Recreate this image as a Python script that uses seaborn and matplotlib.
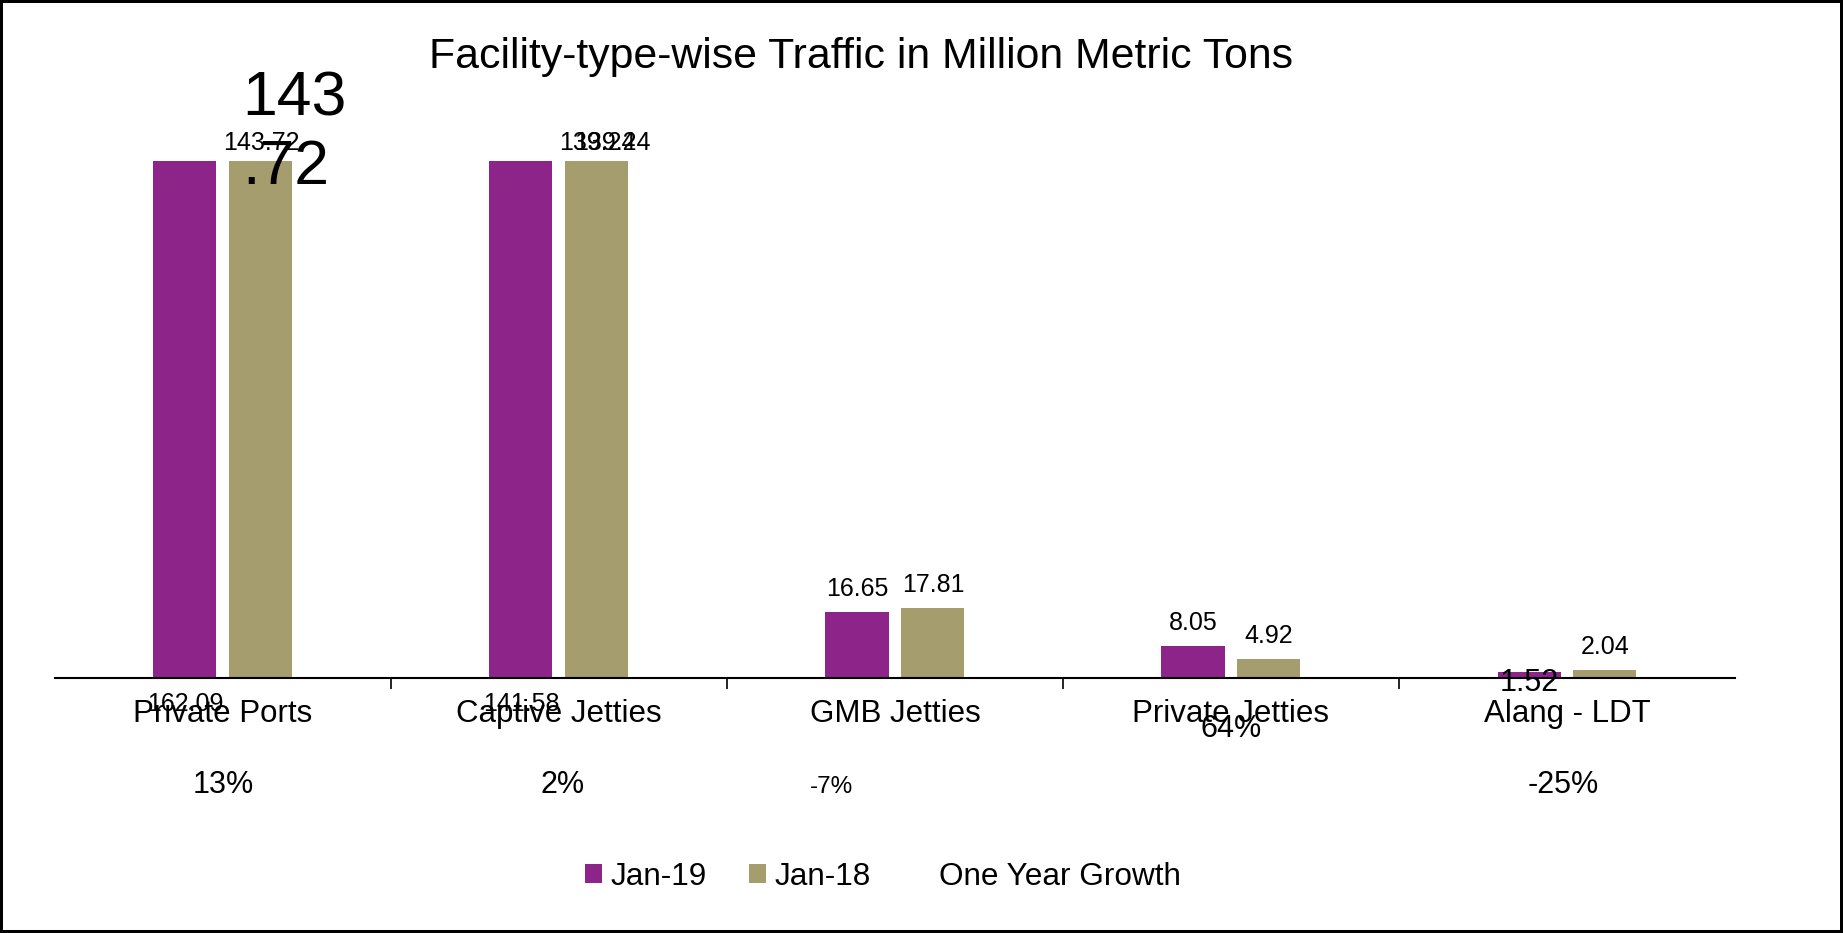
import matplotlib
matplotlib.use("Agg")
import matplotlib.pyplot as plt
import matplotlib.transforms as mtransforms
from matplotlib.patches import Patch
import pandas as pd
import seaborn as sns

# values
categories = ["Private Ports", "Captive Jetties", "GMB Jetties", "Private Jetties", "Alang - LDT"]
jan_19 = [162.09, 141.58, 16.65, 8.05, 1.52]
jan_18 = [143.72, 139.24, 17.81, 4.92, 2.04]
growth = ["13%", "2%", "-7%", "64%", "-25%"]
series_names = ["Jan-19", "Jan-18"]
series_colors = ["#8C2489", "#A69D6E"]
title = "Facility-type-wise Traffic in Million Metric Tons"

sns.set_style("white")
plt.rcParams["font.family"] = ["Liberation Sans", "DejaVu Sans"]
plt.rcParams["text.color"] = "black"
plt.rcParams["xtick.color"] = "black"

df = pd.DataFrame({
    "Facility": categories * 2,
    "Series": [series_names[0]] * len(categories) + [series_names[1]] * len(categories),
    "Traffic": jan_19 + jan_18,
})

fig = plt.figure(figsize=(18.43, 9.33), dpi=100, linewidth=4, edgecolor="black")
ax = fig.add_axes([0.0298, 0.2733, 0.9116, 0.5541])

sns.barplot(data=df, x="Facility", y="Traffic", hue="Series", order=categories,
            hue_order=series_names, palette=dict(zip(series_names, series_colors)),
            width=0.452, gap=0.17, saturation=1, errorbar=None, linewidth=0,
            legend=False, ax=ax)

ymax = 131
ax.set_xlim(-0.5, len(categories) - 0.5)
ax.set_ylim(0, ymax)
ax.set_xlabel("")
ax.set_ylabel("")
ax.set_yticks([])
for side in ["left", "top", "right"]:
    ax.spines[side].set_visible(False)
ax.spines["bottom"].set_color("black")
ax.spines["bottom"].set_linewidth(1.5)

# category labels, ticks sit between the groups
ax.tick_params(axis="x", which="major", length=0, pad=15, labelsize=22.5, labelcolor="black")
ax.set_xticks([i + 0.5 for i in range(len(categories) - 1)], minor=True)
ax.tick_params(axis="x", which="minor", bottom=True, length=8, width=1.2, color="black", direction="out")

# data labels (the clipped bars get their labels moved, as in the original)
for s, container in enumerate(ax.containers):
    for i, bar in enumerate(container):
        x = bar.get_x() + bar.get_width() / 2
        h = bar.get_height()
        txt = f"{h:.2f}"
        if h > ymax and s == 0:
            ax.annotate(txt, (x, 0), xytext=(0, -24), textcoords="offset points",
                        ha="center", va="baseline", fontsize=18, annotation_clip=False)
        elif h > ymax:
            ax.annotate(txt, (x, ymax), xytext=(0, 8), textcoords="offset points",
                        ha="center", va="baseline", fontsize=18, annotation_clip=False)
            if i == 0:
                whole, frac = txt.split(".")
                ax.annotate(whole + "\n." + frac, (x, ymax), xytext=(24, -26),
                            textcoords="offset points", ha="center", va="bottom",
                            multialignment="left", fontsize=45, annotation_clip=False)
            else:
                ax.annotate(txt, (x, ymax), xytext=(11, 8), textcoords="offset points",
                            ha="center", va="baseline", fontsize=18, annotation_clip=False)
        elif h < 1.8:
            ax.annotate(txt, (x, h), xytext=(0, -14), textcoords="offset points",
                        ha="center", va="baseline", fontsize=22, annotation_clip=False)
        else:
            ax.annotate(txt, (x, h), xytext=(0, 11.5), textcoords="offset points",
                        ha="center", va="baseline", fontsize=18, annotation_clip=False)

# one-year growth row under the category names
trans = mtransforms.blended_transform_factory(ax.transData, ax.transAxes)
growth_x = [0.0, 1.01, 1.81, 3.0, 3.99]
growth_y = [-0.222, -0.222, -0.222, -0.114, -0.222]
growth_size = [22, 22, 17.5, 22, 22]
for gx, gy, gs, g in zip(growth_x, growth_y, growth_size, growth):
    ax.text(gx, gy, g, transform=trans, ha="center", va="baseline", fontsize=gs, clip_on=False)

fig.text(0.467, 0.927, title, ha="center", va="baseline", fontsize=30.8)

handles = [Patch(facecolor=c, edgecolor="none") for c in series_colors]
handles.append(Patch(facecolor="none", edgecolor="none"))
fig.legend(handles, series_names + ["One Year Growth"], loc="center",
           bbox_to_anchor=(0.479, 0.06), ncol=3, frameon=False, fontsize=22.7,
           handlelength=0.55, handleheight=0.55, handletextpad=0.26, columnspacing=1.35)

fig.savefig("out.png", dpi=100)
plt.close(fig)
